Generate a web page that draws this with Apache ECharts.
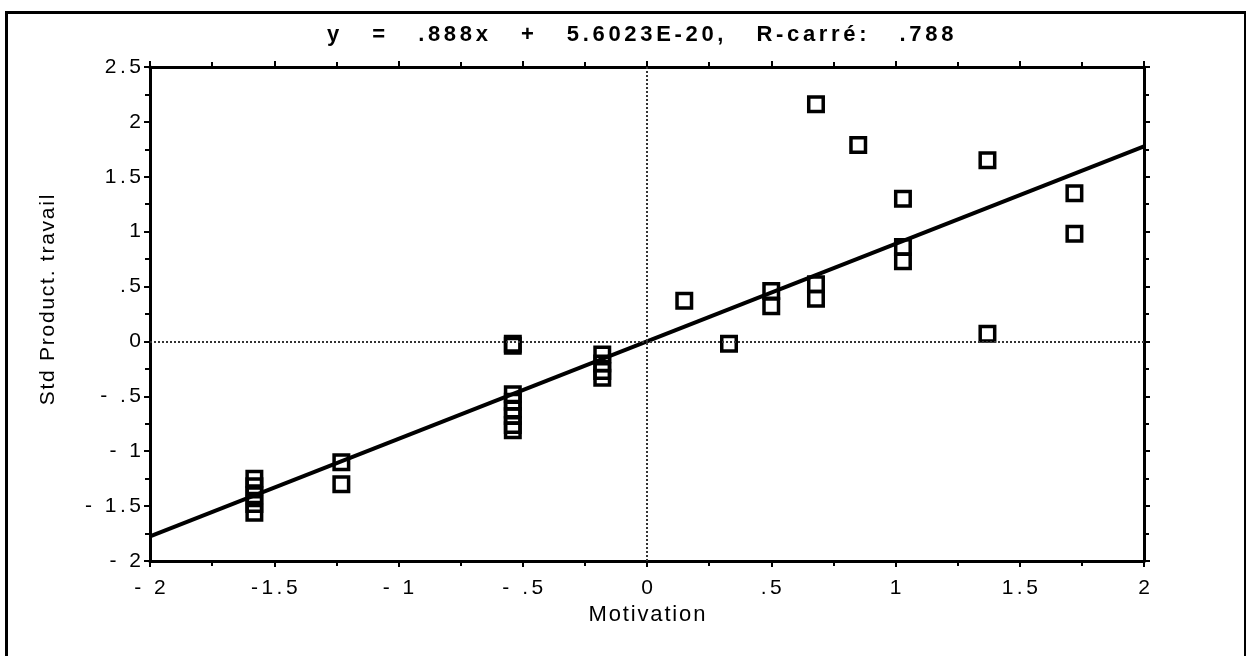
<!DOCTYPE html>
<html>
<head>
<meta charset="utf-8">
<script src="https://cdn.jsdelivr.net/npm/echarts@6/dist/echarts.min.js"></script>
<style>html,body{margin:0;padding:0;background:#fff;}#c{width:1246px;height:656px;}</style>
</head>
<body>
<div id="c"></div>
<script>
// ---- data ----
const pointX = [
  -1.58, -1.58, -1.58, -1.58, -1.58,
  -1.23, -1.23,
  -0.54, -0.54, -0.54, -0.54, -0.54, -0.54, -0.54, -0.54,
  -0.18, -0.18, -0.18, -0.18,
  0.15, 0.33, 0.50, 0.50,
  0.68, 0.68, 0.68, 0.85,
  1.03, 1.03, 1.03,
  1.37, 1.37,
  1.72, 1.72
];
const pointY = [
  -1.25, -1.32, -1.40, -1.48, -1.56,
  -1.10, -1.30,
  -0.02, -0.04, -0.48, -0.55, -0.62, -0.68, -0.76, -0.81,
  -0.12, -0.20, -0.27, -0.33,
  0.37, -0.02, 0.46, 0.32,
  2.16, 0.52, 0.39, 1.79,
  1.30, 0.86, 0.73,
  1.65, 0.07,
  1.35, 0.98
];
const fitSlope = 0.888;
const fitIntercept = 5.6023e-20;
const fitX = [-2, 2];
const xTickValues = [-2, -1.5, -1, -0.5, 0, 0.5, 1, 1.5, 2];
const xTickLabels = ["- 2", "-1.5", "- 1", "- .5", "0", ".5", "1", "1.5", "2"];
const yTickValues = [-2, -1.5, -1, -0.5, 0, 0.5, 1, 1.5, 2, 2.5];
const yTickLabels = ["- 2", "- 1.5", "- 1", "- .5", "0", ".5", "1", "1.5", "2", "2.5"];
const titleText = "y   =   .888x   +   5.6023E-20,   R-carré:   .788";
const xName = "Motivation";
const yName = "Std Product. travail";

// ---- helpers ----
const H = '\u200A';
function spaced(s, n) { return s.split('').join(H.repeat(n)); }
function lbl(values, labels) {
  return function (v) {
    for (let i = 0; i < values.length; i++) {
      if (Math.abs(values[i] - v) < 1e-9) return spaced(labels[i], 2);
    }
    return '';
  };
}
const scatterData = pointX.map((x, i) => [x, pointY[i]]);
const fitData = fitX.map(x => [x, fitSlope * x + fitIntercept]);

const FONT = '"Liberation Sans", Arial, Helvetica, sans-serif';
const axisCommon = {
  type: 'value', min: -2, interval: 0.5,
  axisLine: { show: true, onZero: false, lineStyle: { color: '#000', width: 3 } },
  axisTick: { show: true, inside: false, length: 6, lineStyle: { color: '#000', width: 2 } },
  minorTick: { show: true, splitNumber: 2, length: 5, lineStyle: { color: '#000', width: 2 } },
  splitLine: { show: false },
  minorSplitLine: { show: false }
};

const chart = echarts.init(document.getElementById('c'), null, { renderer: 'canvas' });
chart.setOption({
  animation: false,
  backgroundColor: '#fff',
  title: {
    text: spaced(titleText, 2), left: 322, top: 19,
    textStyle: { fontFamily: FONT, fontWeight: 'bold', fontSize: 22, color: '#000' }
  },
  grid: { left: 150, right: 102, top: 67, bottom: 95, containLabel: false },
  xAxis: [
    Object.assign({}, axisCommon, {
      max: 2, position: 'bottom',
      name: spaced(xName, 1), nameLocation: 'middle', nameGap: 39,
      nameTextStyle: { fontFamily: FONT, fontSize: 22, color: '#000' },
      axisLabel: { show: true, margin: 17, formatter: lbl(xTickValues, xTickLabels),
        fontFamily: FONT, fontSize: 21, color: '#000' }
    }),
    Object.assign({}, axisCommon, {
      max: 2, position: 'top',
      axisLabel: { show: false }
    })
  ],
  yAxis: [
    Object.assign({}, axisCommon, {
      max: 2.5, position: 'left',
      name: spaced(yName, 1), nameLocation: 'middle', nameGap: 91,
      nameTextStyle: { fontFamily: FONT, fontSize: 21, color: '#000', padding: [0, 0, 0, 28] },
      axisLabel: { show: true, margin: 9, formatter: lbl(yTickValues, yTickLabels),
        fontFamily: FONT, fontSize: 21, color: '#000' }
    }),
    Object.assign({}, axisCommon, {
      max: 2.5, position: 'right',
      axisLabel: { show: false }
    })
  ],
  series: [
    {
      type: 'scatter', xAxisIndex: 0, yAxisIndex: 0,
      data: scatterData,
      symbol: 'rect', symbolSize: 14.5,
      itemStyle: { color: 'rgba(0,0,0,0)', borderColor: '#000', borderWidth: 3.5, opacity: 1 },
      markLine: {
        silent: true, symbol: 'none', animation: false,
        label: { show: false },
        lineStyle: { color: '#333', width: 2, type: [2, 2] },
        data: [{ xAxis: 0 }, { yAxis: 0 }]
      },
      z: 3
    },
    {
      type: 'line', xAxisIndex: 0, yAxisIndex: 0,
      data: fitData, showSymbol: false, symbol: 'none',
      lineStyle: { color: '#000', width: 4 },
      z: 4
    }
  ],
  graphic: [
    {
      type: 'rect', left: 4, top: 10, silent: true,
      shape: { width: 1239, height: 700 },
      style: { fill: 'none', stroke: '#000', lineWidth: 3 }
    }
  ]
});
</script>
</body>
</html>
